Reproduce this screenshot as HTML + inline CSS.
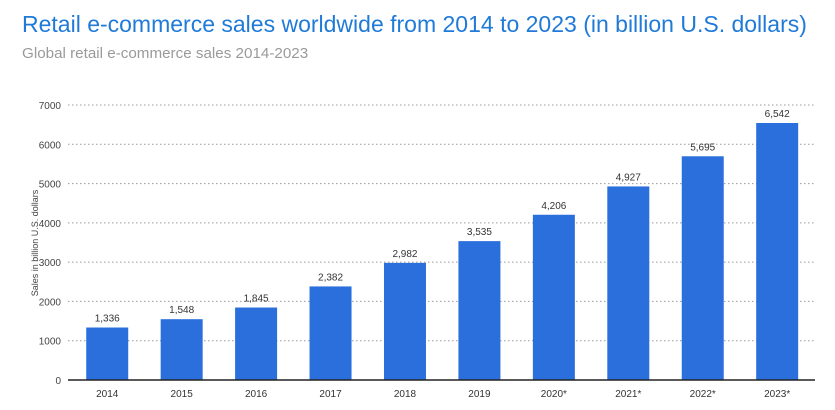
<!DOCTYPE html>
<html><head><meta charset="utf-8"><style>
body{margin:0;background:#fff;width:835px;height:410px;overflow:hidden;font-family:"Liberation Sans",sans-serif}
#title{position:absolute;left:22px;top:11px;font-size:23px;color:#1f7ad8;white-space:nowrap}
#sub{position:absolute;left:22px;top:45px;font-size:15.2px;color:#9a9a9a;white-space:nowrap}
svg{position:absolute;left:0;top:0}
</style></head><body>
<div id="title">Retail e-commerce sales worldwide from 2014 to 2023 (in billion U.S. dollars)</div>
<div id="sub">Global retail e-commerce sales 2014-2023</div>
<svg id="c" width="835" height="410"></svg>
<script>
const categories=["2014","2015","2016","2017","2018","2019","2020*","2021*","2022*","2023*"];
const values=[1336,1548,1845,2382,2982,3535,4206,4927,5695,6542];
const labels=["1,336","1,548","1,845","2,382","2,982","3,535","4,206","4,927","5,695","6,542"];
const ticks=[0,1000,2000,3000,4000,5000,6000,7000];
const svg=document.getElementById('c');const NS='http://www.w3.org/2000/svg';
const x0=68,x1=815,yb=380,yt=105,ymax=7000;
const y=v=>yb-(v/ymax)*(yb-yt);
const bx0=70,step=74.44;
const xc=i=>bx0+step*(i+0.5);
function mk(t,a){const e=document.createElementNS(NS,t);for(const k in a)e.setAttribute(k,a[k]);svg.appendChild(e);return e;}
ticks.forEach(t=>{
 if(t>0){const l=mk('line',{x1:x0,x2:x1,y1:y(t),y2:y(t),stroke:'#999','stroke-dasharray':'1.5,2.5','stroke-width':1});
 
 }
 const tx=mk('text',{x:61,y:y(t)+4,'text-anchor':'end','font-size':10,fill:'#444'});tx.textContent=t;
 
 
});
values.forEach((v,i)=>{
 const r=mk('rect',{x:xc(i)-21,y:y(v),width:42,height:yb-y(v),fill:'#2a6fdb'});
 
 
 const t=mk('text',{x:xc(i),y:y(v)-6,'text-anchor':'middle','font-size':10,fill:'#333'});t.textContent=labels[i];
 
 
 const c=mk('text',{x:xc(i),y:397,'text-anchor':'middle','font-size':10,fill:'#333'});c.textContent=categories[i];
 
 
});
const ax=mk('line',{x1:x0,x2:x1,y1:yb,y2:yb,stroke:'#222','stroke-width':1.5});


const yl=mk('text',{x:0,y:0,'text-anchor':'middle','font-size':9,fill:'#444',transform:'translate(38,243) rotate(-90)'});yl.textContent='Sales in billion U.S. dollars';


</script>
</body></html>
